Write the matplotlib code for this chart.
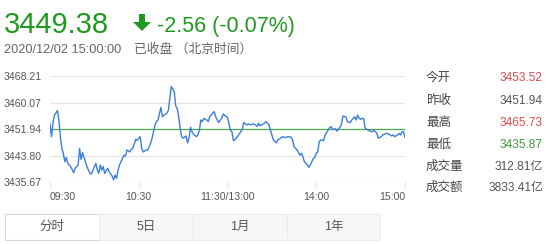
import matplotlib.pyplot as plt
from matplotlib.patches import Polygon, Rectangle

plt.rcParams['font.family'] = ['Liberation Sans', 'Noto Sans CJK SC', 'DejaVu Sans']

# 分时数据: 距 09:30 的交易分钟数, 指数点位
minutes = [0, 1, 2, 3, 5, 6, 7, 8, 9, 10, 11, 12, 14, 16, 17, 19, 20, 21, 22, 24,
           25, 27, 28, 29, 31, 32, 33, 34, 35, 36, 37, 39, 40, 42, 43, 44, 45, 46, 47, 49,
           50, 51, 52, 54, 55, 56, 58, 59, 61, 62, 63, 65, 66, 68, 69, 71, 72, 73, 75, 76,
           77, 79, 80, 81, 82, 84, 85, 86, 87, 88, 89, 90, 92, 93, 94, 95, 96, 97, 99, 100,
           101, 102, 103, 104, 106, 107, 108, 111, 112, 114, 116, 117, 120, 121, 122, 123, 124, 125, 127, 129,
           130, 131, 133, 134, 136, 137, 139, 140, 141, 142, 143, 145, 146, 148, 149, 150, 151, 153, 154, 156,
           157, 159, 161, 163, 164, 165, 167, 168, 169, 170, 171, 172, 174, 175, 176, 177, 178, 179, 180, 181,
           182, 183, 185, 186, 188, 189, 190, 191, 193, 194, 196, 197, 198, 200, 201, 203, 204, 206, 207, 208,
           209, 210, 211, 212, 213, 215, 216, 218, 219, 221, 222, 224, 225, 227, 229, 231, 232, 233, 235, 236,
           237, 238, 239, 240]
prices = [3453.5, 3449.6, 3453.7, 3456.2, 3457.6, 3454.7, 3449.6, 3446.0, 3444.5, 3441.9,
          3443.2, 3441.4, 3440.4, 3438.5, 3439.9, 3440.9, 3446.0, 3442.6, 3444.7, 3441.9,
          3440.4, 3438.3, 3438.1, 3439.3, 3441.4, 3439.3, 3438.3, 3440.9, 3439.3, 3440.4,
          3438.3, 3439.9, 3438.8, 3437.5, 3436.3, 3437.8, 3436.8, 3439.3, 3440.9, 3442.9,
          3443.9, 3443.6, 3445.5, 3444.9, 3445.7, 3446.0, 3448.8, 3448.5, 3449.6, 3446.0,
          3444.9, 3445.5, 3445.5, 3447.5, 3449.1, 3453.2, 3454.2, 3454.7, 3458.6, 3455.7,
          3456.2, 3456.8, 3457.6, 3461.4, 3465.0, 3463.4, 3459.0, 3458.3, 3455.7, 3452.2,
          3449.6, 3449.1, 3449.8, 3447.7, 3449.1, 3452.5, 3451.1, 3450.3, 3449.6, 3450.1,
          3451.6, 3454.7, 3454.2, 3455.2, 3454.7, 3454.2, 3455.7, 3457.3, 3455.7, 3453.9,
          3455.2, 3456.5, 3455.5, 3453.5, 3451.6, 3451.1, 3448.4, 3448.6, 3449.8, 3451.1,
          3451.8, 3453.9, 3453.2, 3453.5, 3453.2, 3453.5, 3453.2, 3452.7, 3453.7, 3452.9,
          3453.2, 3453.7, 3454.2, 3453.2, 3451.6, 3450.1, 3448.6, 3447.7, 3448.6, 3449.1,
          3449.6, 3449.3, 3449.6, 3449.4, 3448.6, 3446.5, 3445.5, 3444.7, 3443.9, 3444.5,
          3443.4, 3441.9, 3440.9, 3440.2, 3440.9, 3441.9, 3442.9, 3443.2, 3444.5, 3444.9,
          3448.0, 3448.6, 3448.4, 3450.1, 3451.6, 3452.3, 3452.7, 3451.8, 3452.0, 3451.3,
          3452.5, 3453.2, 3455.9, 3455.7, 3454.2, 3453.9, 3454.7, 3455.7, 3454.7, 3456.2,
          3455.2, 3454.9, 3455.2, 3455.2, 3452.2, 3451.6, 3451.4, 3451.1, 3451.6, 3450.6,
          3449.1, 3449.6, 3450.1, 3450.6, 3450.4, 3449.8, 3450.1, 3449.6, 3450.1, 3450.6,
          3450.1, 3451.1, 3451.1, 3449.38]

y_ticks = [3435.67, 3443.80, 3451.94, 3460.07, 3468.21]
prev_close = 3451.94
x_ticks = [0, 60, 120, 180, 240]
x_labels = ['09:30', '10:30', '11:30/13:00', '14:00', '15:00']

last_price = '3449.38'
change_text = '-2.56 (-0.07%)'
time_text = '2020/12/02 15:00:00'
status_text = '已收盘 （北京时间）'

info_labels = ['今开', '昨收', '最高', '最低', '成交量', '成交额']
info_values = ['3453.52', '3451.94', '3465.73', '3435.87', '312.81亿', '3833.41亿']
info_colors = ['#e0474c', '#555555', '#e0474c', '#3c9a3c', '#555555', '#555555']

tabs = ['分时', '5日', '1月', '1年']

W, H = 554, 244
green = '#1f9a1f'
fig = plt.figure(figsize=(W / 100, H / 100), dpi=100)

# 背景层, 像素坐标
bg = fig.add_axes([0, 0, 1, 1], zorder=0)
bg.set_xlim(0, W)
bg.set_ylim(H, 0)
bg.axis('off')

bg.text(4, 33, last_price, fontsize=21, color=green, va='baseline', ha='left')
bg.add_patch(Polygon([(139, 14), (145, 14), (145, 22), (151, 22), (142, 31), (133, 22), (139, 22)],
                     closed=True, color=green, lw=0))
bg.text(157, 32, change_text, fontsize=15.5, color=green, va='baseline', ha='left')
bg.text(4, 53, time_text, fontsize=9.2, color='#666666', va='baseline', ha='left')
bg.text(134, 53, status_text, fontsize=9.2, color='#666666', va='baseline', ha='left')

row_y = [78, 100.5, 123, 145, 167, 188]
for lab, val, col, yy in zip(info_labels, info_values, info_colors, row_y):
    bg.text(426, yy, lab, fontsize=9, color='#444444', va='center', ha='left')
    bg.text(543, yy, val, fontsize=8.6, color=col, va='center', ha='right')

tab_edges = [5, 99, 193, 287, 380]
for i, name in enumerate(tabs):
    x0, x1 = tab_edges[i], tab_edges[i + 1]
    face = 'white' if i == 0 else '#f7f7f7'
    edge = '#d8d8d8' if i == 0 else '#ececec'
    bg.add_patch(Rectangle((x0, 214), x1 - x0, 26, facecolor=face, edgecolor=edge, lw=0.8))
    bg.text((x0 + x1) / 2, 227, name, fontsize=9, color='#555555', va='center', ha='center')

# 分时图
ax = fig.add_axes([50 / W, (H - 182) / H, 355 / W, 106 / H], zorder=1)
ax.set_facecolor('none')
ax.plot(minutes, prices, color='#3a7ee0', lw=1.0, zorder=3)
for v in y_ticks:
    if v == prev_close:
        ax.axhline(v, color='#4caa4c', lw=0.9, zorder=2)
    else:
        ax.axhline(v, color='#e6e6e6', lw=0.9, zorder=1)
ax.set_xlim(0, 240)
ax.set_ylim(y_ticks[0], y_ticks[-1])
ax.set_yticks(y_ticks)
ax.set_yticklabels(['%.2f' % v for v in y_ticks])
ax.set_xticks(x_ticks)
ax.set_xticklabels(x_labels)
for s in ax.spines.values():
    s.set_visible(False)
ax.tick_params(axis='y', length=0, pad=6, labelsize=7.6, labelcolor='#555555')
ax.tick_params(axis='x', length=3, color='#dddddd', pad=4, labelsize=7.6, labelcolor='#555555')
xl = ax.get_xticklabels()
xl[0].set_ha('left')
xl[-1].set_ha('right')

fig.savefig('out.png', dpi=100)
